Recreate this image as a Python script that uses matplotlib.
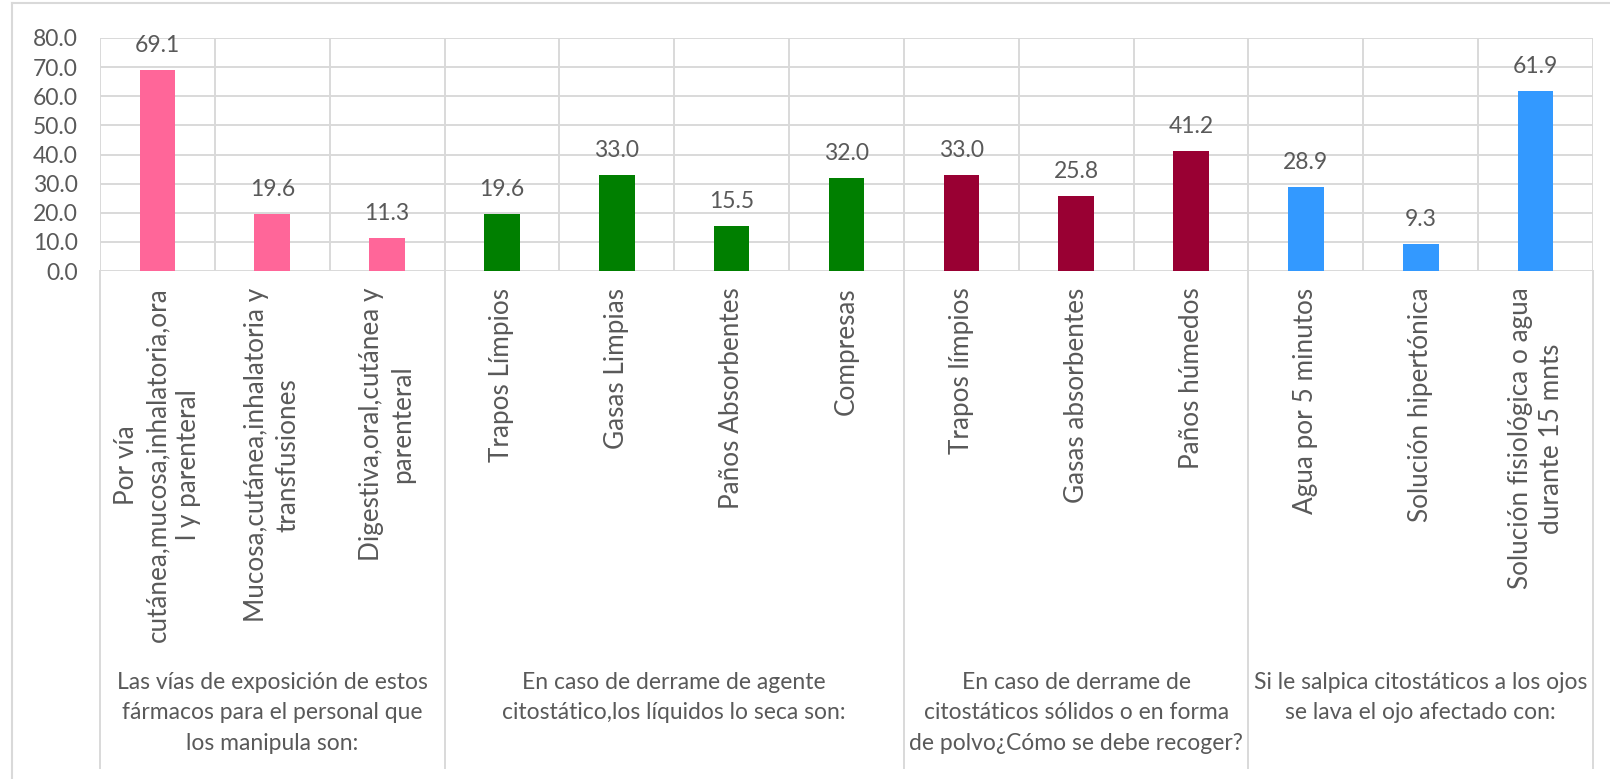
import matplotlib
matplotlib.use("Agg")
import matplotlib.pyplot as plt
import matplotlib.transforms as mtransforms
from matplotlib.lines import Line2D

plt.rcParams["font.family"] = ["Lato", "DejaVu Sans"]

# ---- data -------------------------------------------------------------
group_titles = [
    "Las vías de exposición de estos\nfármacos para el personal que\nlos manipula son:",
    "En caso de derrame de agente\ncitostático,los líquidos lo seca son:",
    "En caso de derrame de\ncitostáticos sólidos o en forma\nde polvo¿Cómo se debe recoger?",
    "Si le salpica citostáticos a los ojos\nse lava el ojo afectado con:",
]
group_sizes = [3, 4, 3, 3]
group_colors = ["#FF6699", "#007F00", "#990033", "#3399FF"]

categories = [
    "Por vía\ncutánea,mucosa,inhalatoria,ora\nl y parenteral",
    "Mucosa,cutánea,inhalatoria y\ntransfusiones",
    "Digestiva,oral,cutánea y\nparenteral",
    "Trapos Límpios",
    "Gasas Limpias",
    "Paños Absorbentes",
    "Compresas",
    "Trapos límpios",
    "Gasas absorbentes",
    "Paños húmedos",
    "Agua por 5 minutos",
    "Solución hipertónica",
    "Solución fisiológica o agua\ndurante 15 mnts",
]
values = [69.1, 19.6, 11.3, 19.6, 33.0, 15.5, 32.0, 33.0, 25.8, 41.2, 28.9, 9.3, 61.9]
y_ticks = [0, 10, 20, 30, 40, 50, 60, 70, 80]

# ---- style ------------------------------------------------------------
TEXT = "#595959"
GRID = "#D9D9D9"
FS = 16.5
FS_CAT = 18.8

W, H = 1610, 779
fig = plt.figure(figsize=(W / 100, H / 100), dpi=100)
ax = fig.add_axes([100 / W, (H - 271) / H, (1593 - 100) / W, (271 - 38) / H])

bar_colors = []
for size, col in zip(group_sizes, group_colors):
    bar_colors += [col] * size

x = list(range(len(values)))
bars = ax.bar(x, values, width=0.31, color=bar_colors, zorder=3)
ax.bar_label(bars, labels=[f"{v:.1f}" for v in values], padding=10,
             fontsize=FS, color=TEXT)

ax.set_xlim(-0.5, len(values) - 0.5)
ax.set_ylim(0, 80)
ax.set_yticks(y_ticks)
ax.set_yticklabels([f"{t:.1f}" for t in y_ticks], fontsize=FS, color=TEXT)

ax.set_xticks(x)
ax.set_xticklabels(categories, fontsize=FS_CAT, color=TEXT)
for lab in ax.get_xticklabels():
    lab.set_rotation(90)
    lab.set_ha("center")
    lab.set_va("top")
    lab.set_multialignment("center")
    lab.set_linespacing(1.3)

ax.set_xticks([i - 0.5 for i in range(len(values) + 1)], minor=True)
ax.tick_params(axis="x", which="both", length=0, pad=12)
ax.tick_params(axis="y", length=0, pad=16)

ax.grid(axis="y", color=GRID, lw=1.4, zorder=0)
ax.grid(axis="x", which="minor", color=GRID, lw=1.4, zorder=0)
ax.grid(axis="x", which="major", visible=False)
for s in ax.spines.values():
    s.set_visible(False)

# group separators below the axis and group titles
trans = mtransforms.blended_transform_factory(ax.transData, ax.transAxes)
y_sep_bottom = -(768 - 271) / (271 - 38)
y_title_top = -(672 - 271) / (271 - 38)
bounds = [-0.5]
for size in group_sizes:
    bounds.append(bounds[-1] + size)
for b in bounds:
    ax.add_line(Line2D([b, b], [0, y_sep_bottom], transform=trans, color=GRID,
                       lw=1.4, clip_on=False))
for title, lo, hi in zip(group_titles, bounds[:-1], bounds[1:]):
    ax.text((lo + hi) / 2, y_title_top, title, transform=trans, ha="center",
            va="top", fontsize=FS, color=TEXT, multialignment="center",
            linespacing=1.55)

# outer chart border
fig.add_artist(Line2D([12 / W, 12 / W], [0, (H - 3) / H], color=GRID, lw=1.5,
                      transform=fig.transFigure))
fig.add_artist(Line2D([12 / W, 1], [(H - 3) / H, (H - 3) / H], color=GRID, lw=1.5,
                      transform=fig.transFigure))

fig.savefig("out.png", dpi=100, facecolor="white")
